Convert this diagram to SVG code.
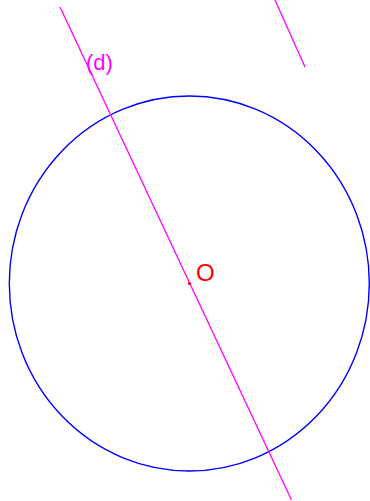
<svg xmlns="http://www.w3.org/2000/svg" width="370" height="501" viewBox="0 0 370 501">
<style>
.m{stroke:#ff00ff;stroke-width:1.3;fill:none}
.t{font-family:"Liberation Sans",Arial,sans-serif}
</style>
<rect width="370" height="501" fill="#ffffff"/>
<g id="circle">
<ellipse cx="189.3" cy="283.5" rx="180" ry="187.5" fill="none" stroke="#0000ff" stroke-width="1.4"/>
</g>
<g id="connectors">
<line class="m" x1="60" y1="7" x2="291.5" y2="500"/>
<line class="m" x1="275" y1="0" x2="305" y2="67"/>
</g>
<g id="d-label">
<text class="t" x="86" y="70" font-size="22" fill="#ff00ff">(d)</text>
</g>
<g id="O">
<circle cx="189.5" cy="283.5" r="1.6" fill="#ff0000"/>
<text class="t" x="196" y="280.7" font-size="24" fill="#ff0000">O</text>
</g>
</svg>
